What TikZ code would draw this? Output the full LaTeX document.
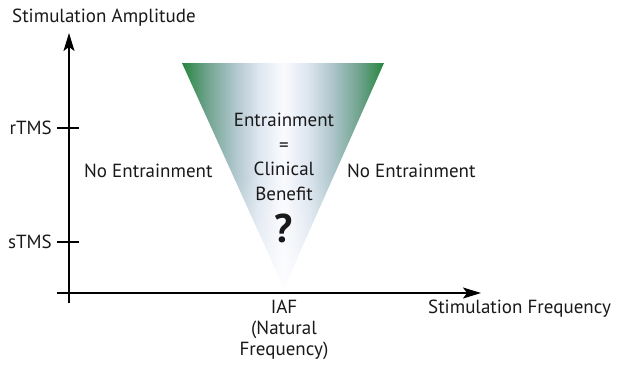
\documentclass[tikz,border=0pt]{standalone}
\usepackage{fontspec}
\setmainfont{PT Sans}
\usetikzlibrary{arrows.meta,fadings}
\definecolor{edgegreen}{RGB}{38,134,62}
\definecolor{tealgray}{RGB}{110,162,140}
\definecolor{steelgray}{RGB}{175,198,205}
\definecolor{paleblue}{RGB}{222,230,240}
\definecolor{centerwhite}{RGB}{250,251,255}
\pgfdeclarehorizontalshading{funnel}{100bp}{
  color(0bp)=(edgegreen); color(25bp)=(edgegreen); color(31bp)=(tealgray);
  color(38bp)=(steelgray); color(44bp)=(paleblue); color(50bp)=(centerwhite);
  color(56bp)=(paleblue); color(62bp)=(steelgray); color(69bp)=(tealgray);
  color(75bp)=(edgegreen); color(100bp)=(edgegreen)}
\tikzset{
  lbl/.style={inner sep=0pt, font=\fontsize{19}{22}\selectfont, text=black!90},
  stack/.style={lbl, align=center, font=\fontsize{19}{24.5}\selectfont},
  axis/.style={line width=1.8pt, -{Stealth[length=18pt,width=11pt,inset=4pt]}},
  tick/.style={line width=1.5pt}
}
\begin{document}
\begin{tikzpicture}[x=1pt,y=-1pt]
\useasboundingbox (0,0) rectangle (619,365);
% funnel
\coordinate (tl) at (182,63);
\coordinate (tr) at (384,63);
\coordinate (ap) at (284,288);
\shade[shading=funnel] (tl) -- (tr) -- (ap) -- cycle;
\fill[white, path fading=north, opacity=0.6] (233,175) -- (335,175) -- (ap) -- cycle;
% axes
\coordinate (yo) at (69,303);
\coordinate (ytop) at (69,33);
\coordinate (xo) at (57,293);
\coordinate (xend) at (481,293);
\draw[axis] (yo) -- (ytop);
\draw[axis] (xo) -- (xend);
\coordinate (r1) at (57,128); \coordinate (r2) at (79,128);
\coordinate (s1) at (57,242); \coordinate (s2) at (79,242);
\draw[tick] (r1) -- (r2);
\draw[tick] (s1) -- (s2);
% labels
\node[lbl, anchor=west] (yl) at (12,18) {Stimulation Amplitude};
\node[lbl, anchor=east] (rt) at (52,128) {rTMS};
\node[lbl, anchor=east] (st) at (52,242) {sTMS};
\node[lbl, anchor=west] (ne1) at (84,171) {No Entrainment};
\node[lbl, anchor=west] (ne2) at (347,171) {No Entrainment};
\node[lbl, anchor=west] (xl) at (428,309) {Stimulation Frequency};
\node[stack] (ent) at (284,157) {Entrainment\\=\\Clinical\\Benefit};
\node[lbl, font=\fontsize{40}{42}\bfseries\selectfont] (q) at (284,228) {?};
\node[stack, font=\fontsize{19}{21}\selectfont] (iaf) at (284,330) {IAF\\(Natural\\Frequency)};
\end{tikzpicture}
\end{document}
